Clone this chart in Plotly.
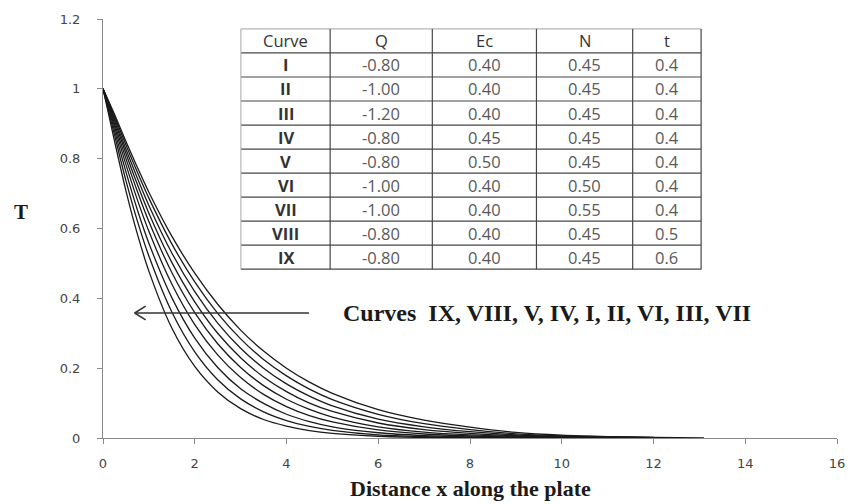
import plotly.graph_objects as go

# ---------------- data ----------------
x_grid = [0, 0.25, 0.5, 0.75, 1, 1.5, 2, 2.5, 3, 3.5, 4, 4.5, 5, 6, 7, 8, 9, 10, 11, 12]

curve_VII = [1, 0.851, 0.708, 0.584, 0.478, 0.315, 0.205, 0.132, 0.084, 0.053, 0.034, 0.021, 0.013, 0.005, 0.002, 0.0008, 0.0004, 0.0002, 0.0001, 0.0001]
curve_III = [1, 0.868, 0.737, 0.621, 0.521, 0.361, 0.247, 0.167, 0.112, 0.075, 0.050, 0.033, 0.022, 0.009, 0.004, 0.0017, 0.0008, 0.0004, 0.0002, 0.0001]
curve_VI = [1, 0.881, 0.762, 0.653, 0.558, 0.402, 0.286, 0.202, 0.141, 0.099, 0.068, 0.047, 0.032, 0.015, 0.007, 0.0032, 0.0016, 0.0008, 0.0004, 0.0002]
curve_II = [1, 0.892, 0.783, 0.682, 0.592, 0.441, 0.325, 0.238, 0.173, 0.125, 0.090, 0.064, 0.046, 0.023, 0.0115, 0.0057, 0.0028, 0.0014, 0.0007, 0.0003]
curve_I = [1, 0.901, 0.800, 0.706, 0.620, 0.474, 0.359, 0.270, 0.202, 0.150, 0.111, 0.082, 0.060, 0.032, 0.017, 0.009, 0.0045, 0.0022, 0.0011, 0.0005]
curve_IV = [1, 0.909, 0.815, 0.726, 0.644, 0.503, 0.390, 0.300, 0.230, 0.175, 0.133, 0.100, 0.076, 0.043, 0.024, 0.0132, 0.0065, 0.0032, 0.0016, 0.0008]
curve_V = [1, 0.915, 0.827, 0.744, 0.666, 0.530, 0.419, 0.329, 0.257, 0.200, 0.155, 0.120, 0.092, 0.054, 0.032, 0.018, 0.009, 0.0045, 0.0022, 0.0011]
curve_VIII = [1, 0.922, 0.839, 0.761, 0.687, 0.556, 0.447, 0.357, 0.284, 0.225, 0.178, 0.140, 0.110, 0.068, 0.041, 0.024, 0.012, 0.006, 0.003, 0.0015]
x_IX = x_grid + [13.1]
curve_IX = [1, 0.927, 0.849, 0.775, 0.704, 0.578, 0.472, 0.383, 0.309, 0.249, 0.200, 0.160, 0.128, 0.081, 0.051, 0.031, 0.016, 0.008, 0.004, 0.002, 0.0005]

# table contents
tbl_header = ["Curve", "Q", "Ec", "N", "t"]
tbl_curve = ["I", "II", "III", "IV", "V", "VI", "VII", "VIII", "IX"]
tbl_Q = ["-0.80", "-1.00", "-1.20", "-0.80", "-0.80", "-1.00", "-1.00", "-0.80", "-0.80"]
tbl_Ec = ["0.40", "0.40", "0.40", "0.45", "0.50", "0.40", "0.40", "0.40", "0.40"]
tbl_N = ["0.45", "0.45", "0.45", "0.45", "0.45", "0.50", "0.55", "0.45", "0.45"]
tbl_t = ["0.4", "0.4", "0.4", "0.4", "0.4", "0.4", "0.4", "0.5", "0.6"]

x_ticks = [0, 2, 4, 6, 8, 10, 12, 14, 16]
y_ticks = [0, 0.2, 0.4, 0.6, 0.8, 1, 1.2]
y_tick_text = ["0", "0.2", "0.4", "0.6", "0.8", "1", "1.2"]

# ---------------- layout constants (pixels) ----------------
W, H = 857, 504
ML, MR, MT, MB = 103, 14, 16, 66
PW, PH = W - ML - MR, H - MT - MB


def px_x(p):
    return (p - ML) / PW


def px_y(p):
    return (H - MB - p) / PH


# ---------------- figure ----------------
fig = go.Figure()

series = [
    ("VII", x_grid, curve_VII), ("III", x_grid, curve_III), ("VI", x_grid, curve_VI),
    ("II", x_grid, curve_II), ("I", x_grid, curve_I), ("IV", x_grid, curve_IV),
    ("V", x_grid, curve_V), ("VIII", x_grid, curve_VIII), ("IX", x_IX, curve_IX),
]
for name, xs, ys in series:
    fig.add_trace(go.Scatter(
        x=xs, y=ys, mode="lines", name=name, showlegend=False,
        line=dict(color="#1a1a1a", width=1.3, shape="spline", smoothing=0.8),
        hoverinfo="skip",
    ))

# ---- table drawn with shapes + annotations ----
col_edges = [242, 332, 435, 540, 637, 706]
row_top, row_h, n_rows = 26, 24.2, 10
row_edges = [row_top + i * row_h for i in range(n_rows + 1)]

dark, light = "#474747", "#b5b5b5"
fig.add_shape(type="rect", xref="paper", yref="paper",
              x0=px_x(col_edges[0]), x1=px_x(col_edges[-1]),
              y0=px_y(row_edges[-1]), y1=px_y(row_edges[0]),
              fillcolor="white", line=dict(width=0), layer="below")
for i, ry in enumerate(row_edges):
    fig.add_shape(type="line", xref="paper", yref="paper",
                  x0=px_x(col_edges[0]), x1=px_x(col_edges[-1]), y0=px_y(ry), y1=px_y(ry),
                  line=dict(color=light if i == 0 else dark, width=1.2))
for j, cx in enumerate(col_edges):
    fig.add_shape(type="line", xref="paper", yref="paper",
                  x0=px_x(cx), x1=px_x(cx), y0=px_y(row_edges[-1]), y1=px_y(row_edges[0]),
                  line=dict(color=light if j == 0 else dark, width=1.2))

columns = [tbl_curve, tbl_Q, tbl_Ec, tbl_N, tbl_t]
tfont = "Open Sans"
for j, head in enumerate(tbl_header):
    cx = (col_edges[j] + col_edges[j + 1]) / 2
    fig.add_annotation(x=px_x(cx), y=px_y(row_edges[0] + row_h / 2), xref="paper", yref="paper",
                       text=head, showarrow=False, xanchor="center", yanchor="middle",
                       font=dict(family=tfont, size=16.5, color="#333"))
    for i, val in enumerate(columns[j]):
        cy = row_edges[i + 1] + row_h / 2
        fig.add_annotation(x=px_x(cx), y=px_y(cy), xref="paper", yref="paper",
                           text=val, showarrow=False, xanchor="center", yanchor="middle",
                           font=dict(family=tfont, size=16.5,
                                     color="#333" if j == 0 else "#5a5a5a",
                                     weight="bold" if j == 0 else "normal"))

axis_common = dict(
    showline=True, linecolor="#8a8a8a", linewidth=1,
    ticks="outside", ticklen=5, tickcolor="#8a8a8a", tickwidth=1,
    showgrid=False, zeroline=False,
    tickfont=dict(family="DejaVu Sans", size=13, color="#444"),
)

fig.update_layout(
    width=W, height=H,
    margin=dict(l=ML, r=MR, t=MT, b=MB),
    paper_bgcolor="white", plot_bgcolor="white",
    xaxis=dict(range=[0, 16], tickvals=x_ticks, ticklabelstandoff=8, **axis_common),
    yaxis=dict(range=[0, 1.2], tickvals=y_ticks, ticktext=y_tick_text, ticklabelstandoff=14, **axis_common),
    showlegend=False,
)

# arrow (line with open chevron head) pointing left
arrow_y = 0.358
fig.add_shape(type="line", x0=0.69, x1=4.49, y0=arrow_y, y1=arrow_y,
              line=dict(color="#333", width=1.5))
fig.add_shape(type="line", x0=0.69, x1=0.93, y0=arrow_y, y1=arrow_y + 0.02,
              line=dict(color="#333", width=1.5))
fig.add_shape(type="line", x0=0.69, x1=0.93, y0=arrow_y, y1=arrow_y - 0.02,
              line=dict(color="#333", width=1.5))

fig.add_annotation(
    x=px_x(343), y=arrow_y, xref="paper", yref="y", xanchor="left", yanchor="middle",
    text="Curves\u00a0\u00a0IX, VIII, V, IV, I, II, VI, III, VII", showarrow=False,
    font=dict(family="Liberation Serif", size=24, color="#1a1a1a", weight="bold"),
)
fig.add_annotation(
    x=0.5, y=px_y(489), xref="paper", yref="paper", xanchor="center", yanchor="middle",
    text="Distance x along the plate", showarrow=False,
    font=dict(family="Liberation Serif", size=22, color="#1a1a1a", weight="bold"),
)
fig.add_annotation(
    x=px_x(20), y=px_y(210), xref="paper", yref="paper", xanchor="center", yanchor="middle",
    text="T", showarrow=False,
    font=dict(family="Liberation Serif", size=21, color="#1a1a1a", weight="bold"),
)

fig.write_html("out.html", config={"displayModeBar": False},
               post_script="document.body.style.margin='0px';")
